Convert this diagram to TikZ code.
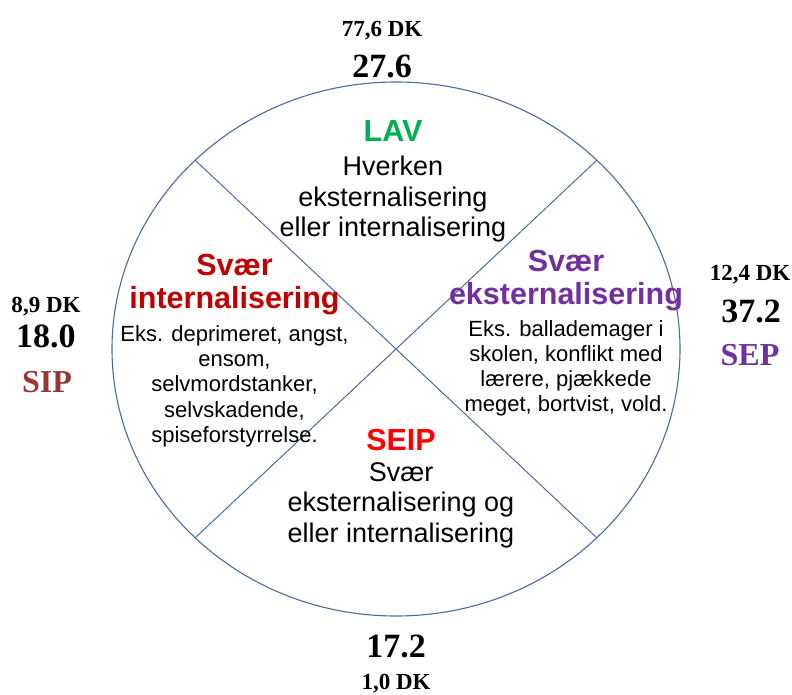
\documentclass[tikz,border=0pt]{standalone}
\usepackage{fontspec}
\setmainfont{Liberation Sans}
\newfontfamily\numfont{Liberation Serif}
\usetikzlibrary{positioning,shapes.geometric}
\definecolor{rimblue}{HTML}{4A6AA5}
\definecolor{lavgreen}{HTML}{00B050}
\definecolor{sipred}{HTML}{C00000}
\definecolor{seppurple}{HTML}{7030A0}
\definecolor{seipred}{HTML}{FF0000}
\definecolor{sipbrown}{HTML}{953735}

\begin{document}
\begin{tikzpicture}[
  x=1pt,y=-1pt,
  wheel/.style={draw=rimblue,line width=1.1pt,ellipse,minimum width=568pt,minimum height=534pt,inner sep=0pt,outer sep=0pt},
  divider/.style={draw=rimblue,line width=1pt},
  headline/.style={font=\fontsize{30.5}{33.5}\selectfont\bfseries,align=center,inner sep=0pt},
  mainbody/.style={font=\fontsize{27}{30.7}\selectfont,align=center,inner sep=0pt},
  sidebody/.style={font=\fontsize{22}{25.3}\selectfont,align=center,inner sep=0pt},
  share/.style={font=\numfont\fontsize{23}{27}\selectfont\bfseries,anchor=base,inner sep=0pt},
  score/.style={font=\numfont\fontsize{34}{40}\selectfont\bfseries,anchor=base,inner sep=0pt},
  group/.style={font=\numfont\fontsize{32}{38}\selectfont\bfseries,anchor=base,inner sep=0pt}
]
  \useasboundingbox (0,0) rectangle (792,695);

  % the wheel and its two cuts
  \node[wheel] (wheel) at (396,349) {};
  \draw[divider] (wheel.north west) -- (wheel.south east);
  \draw[divider] (wheel.north east) -- (wheel.south west);

  % quadrants
  \node[headline,text=lavgreen] (lav) at (393,131.5) {LAV};
  \node[mainbody,below=13.4pt of lav] (lavtxt) {Hverken\\eksternalisering\\eller internalisering};

  \node[headline,text=sipred] (siphead) at (234.5,284.6) {Svær\\internalisering};
  \node[sidebody,below=9.6pt of siphead] (siptxt) {Eks. deprimeret, angst,\\ensom,\\selvmordstanker,\\selvskadende,\\spiseforstyrrelse.};

  \node[headline,text=seppurple] (sephead) at (566,280.5) {Svær\\eksternalisering};
  \node[sidebody,below=8.6pt of sephead] (septxt) {Eks. ballademager i\\skolen, konflikt med\\lærere, pjækkede\\meget, bortvist, vold.};

  \node[headline,text=seipred] (seip) at (401,439.6) {SEIP};
  \node[mainbody,below=11.5pt of seip] (seiptxt) {Svær\\eksternalisering og\\eller internalisering};

  % figures outside the wheel
  \node[share] (topshare) at (382,37) {77,6 DK};
  \node[score] (topscore) at (382,78) {27.6};
  \node[share] (leftshare) at (46,312) {8,9 DK};
  \node[score] (leftscore) at (46,347) {18.0};
  \node[group,text=sipbrown] (sip) at (47,392) {SIP};
  \node[share] (rightshare) at (750,280) {12,4 DK};
  \node[score] (rightscore) at (751,322) {37.2};
  \node[group,text=seppurple] (sep) at (750,365) {SEP};
  \node[score] (bottomscore) at (396,657) {17.2};
  \node[share] (bottomshare) at (396,689) {1,0 DK};
\end{tikzpicture}
\end{document}
